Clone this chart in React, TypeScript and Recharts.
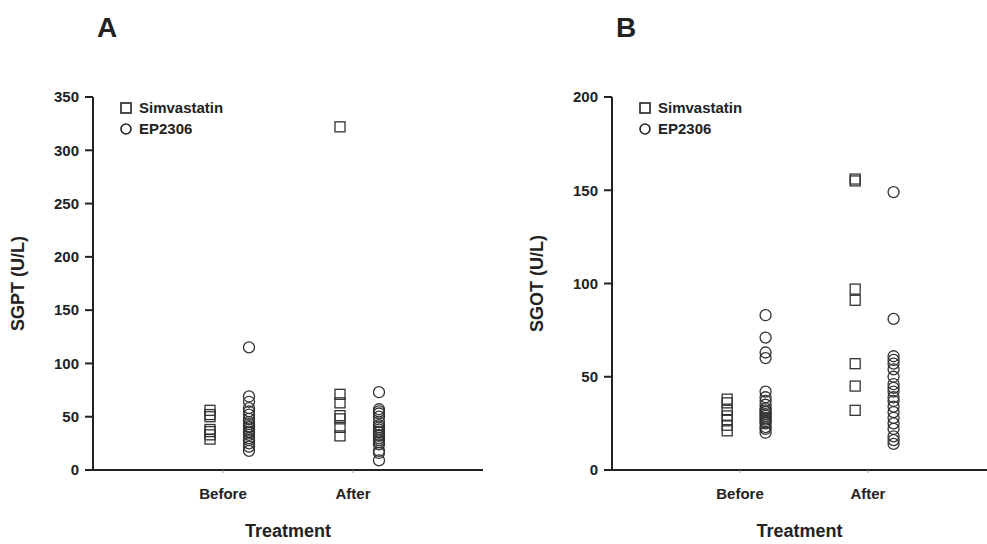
import React from 'react';
import { ScatterChart, Scatter, XAxis, YAxis, Label } from 'recharts';

// categories and series
const categories = ['Before', 'After'];
const seriesNames = ['Simvastatin', 'EP2306'];

// Panel A: SGPT (U/L)
const sgptTicks = [0, 50, 100, 150, 200, 250, 300, 350];
const sgptSimvBefore = [56, 52, 50, 38, 36, 33, 29];
const sgptSimvAfter = [322, 71, 63, 51, 48, 40, 32];
const sgptEpBefore = [115, 69, 64, 58, 55, 52, 48, 45, 43, 41, 40, 38, 36, 35, 33, 30, 28, 25, 22, 18];
const sgptEpAfter = [73, 57, 55, 53, 50, 45, 42, 40, 38, 36, 35, 33, 32, 30, 28, 26, 24, 18, 16, 9];

// Panel B: SGOT (U/L)
const sgotTicks = [0, 50, 100, 150, 200];
const sgotSimvBefore = [38, 36, 32, 29, 27, 24, 21];
const sgotSimvAfter = [156, 155, 97, 91, 57, 45, 32];
const sgotEpBefore = [83, 71, 63, 60, 42, 39, 37, 35, 33, 32, 31, 30, 29, 28, 27, 26, 25, 23, 22, 20];
const sgotEpAfter = [149, 81, 61, 59, 57, 54, 50, 46, 44, 42, 39, 37, 34, 31, 28, 25, 22, 18, 16, 14];

// dodge offsets for the two groups around each category
const SQUARE_OFFSET = -0.1;
const CIRCLE_OFFSET = 0.2;

const INK = '#222';
const FONT = '"Liberation Sans", Arial, Helvetica, sans-serif';

const toPoints = (before: number[], after: number[], offset: number) => [
  ...before.map((v) => ({ x: 1 + offset, y: v })),
  ...after.map((v) => ({ x: 2 + offset, y: v })),
];

const SquareShape = (props: any) => {
  const { cx, cy } = props;
  return <rect x={cx - 5} y={cy - 5} width={10} height={10} fill="none" stroke="#333" strokeWidth={1.3} />;
};

const CircleShape = (props: any) => {
  const { cx, cy } = props;
  return <circle cx={cx} cy={cy} r={5.5} fill="none" stroke="#333" strokeWidth={1.3} />;
};

interface PanelProps {
  letter: string;
  yLabel: string;
  yTicks: number[];
  simvBefore: number[];
  simvAfter: number[];
  epBefore: number[];
  epAfter: number[];
  width: number;
  xMax: number;
  marginRight: number;
}

const Panel: React.FC<PanelProps> = ({
  letter, yLabel, yTicks, simvBefore, simvAfter, epBefore, epAfter, width, xMax, marginRight,
}) => {
  const simv = toPoints(simvBefore, simvAfter, SQUARE_OFFSET);
  const ep = toPoints(epBefore, epAfter, CIRCLE_OFFSET);
  const tickStyle = { fill: INK, fontSize: 15, fontWeight: 'bold' };

  return (
    <ScatterChart width={width} height={544} margin={{ top: 97, right: marginRight, bottom: 34, left: 0 }}>
      <XAxis
        type="number"
        dataKey="x"
        domain={[0, xMax]}
        ticks={[1, 2]}
        tickFormatter={(v: number) => categories[v - 1]}
        axisLine={{ stroke: INK, strokeWidth: 2 }}
        tickLine={{ stroke: '#999', strokeWidth: 1 }}
        tickSize={3}
        tickMargin={15}
        tick={tickStyle}
        height={40}
        allowDataOverflow
      >
        <Label value="Treatment" position="bottom" offset={14} style={{ fill: INK, fontSize: 18, fontWeight: 'bold' }} />
      </XAxis>
      <YAxis
        type="number"
        dataKey="y"
        domain={[0, yTicks[yTicks.length - 1]]}
        ticks={yTicks}
        width={93}
        axisLine={{ stroke: INK, strokeWidth: 2 }}
        tickLine={{ stroke: INK, strokeWidth: 2 }}
        tickSize={8}
        tickMargin={6}
        tick={tickStyle}
      >
        <Label
          value={yLabel}
          angle={-90}
          position="insideLeft"
          offset={18}
          style={{ textAnchor: 'middle', fill: INK, fontSize: 18, fontWeight: 'bold' }}
        />
      </YAxis>
      <Scatter name={seriesNames[0]} data={simv} shape={SquareShape} isAnimationActive={false} />
      <Scatter name={seriesNames[1]} data={ep} shape={CircleShape} isAnimationActive={false} />

      <text x={107} y={37} textAnchor="middle" fill={INK} fontSize={28} fontWeight="bold">{letter}</text>

      <g>
        <rect x={121} y={103} width={10} height={10} fill="none" stroke={INK} strokeWidth={1.6} />
        <text x={139} y={113} fill={INK} fontSize={15} fontWeight="bold">{seriesNames[0]}</text>
        <circle cx={126} cy={129} r={5} fill="none" stroke={INK} strokeWidth={1.6} />
        <text x={139} y={134} fill={INK} fontSize={15} fontWeight="bold">{seriesNames[1]}</text>
      </g>
    </ScatterChart>
  );
};

export default function App() {
  return (
    <div style={{ position: 'absolute', left: 0, top: 0, width: 987, height: 544, background: '#fff', fontFamily: FONT, display: 'flex' }}>
      <Panel
        letter="A"
        yLabel="SGPT (U/L)"
        yTicks={sgptTicks}
        simvBefore={sgptSimvBefore}
        simvAfter={sgptSimvAfter}
        epBefore={sgptEpBefore}
        epAfter={sgptEpAfter}
        width={519}
        xMax={3}
        marginRight={36}
      />
      <Panel
        letter="B"
        yLabel="SGOT (U/L)"
        yTicks={sgotTicks}
        simvBefore={sgotSimvBefore}
        simvAfter={sgotSimvAfter}
        epBefore={sgotEpBefore}
        epAfter={sgotEpAfter}
        width={468}
        xMax={2.93}
        marginRight={0}
      />
    </div>
  );
}
